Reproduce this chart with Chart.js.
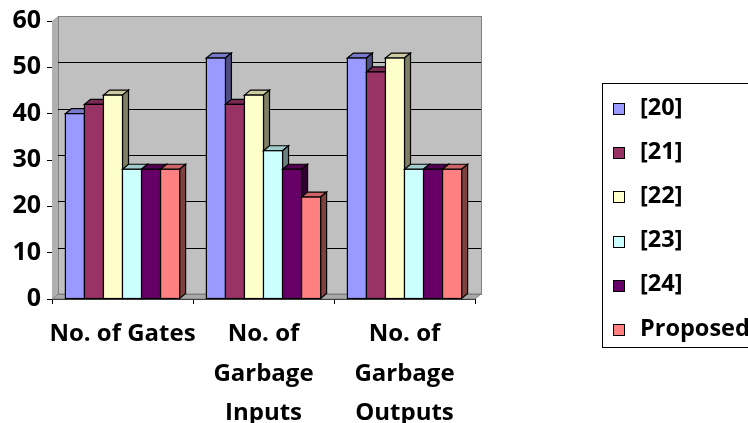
<!DOCTYPE html>
<html><head><meta charset="utf-8">
<script src="https://cdn.jsdelivr.net/npm/chart.js@4/dist/chart.umd.min.js"></script>
<style>html,body{margin:0;padding:0;background:#fff;overflow:hidden}#wrap{width:748px;height:423px;position:relative}</style>
</head><body><div id="wrap"><canvas id="c" width="748" height="423"></canvas></div>
<script>
const categories = ["No. of Gates", ["No. of","Garbage","Inputs"], ["No. of","Garbage","Outputs"]];
const seriesNames = ["[20]","[21]","[22]","[23]","[24]","Proposed"];
const s20 = [40,52,52];
const s21 = [42,42,49];
const s22 = [44,44,52];
const s23 = [28,32,28];
const s24 = [28,28,28];
const sProposed = [28,22,28];
const seriesColors = ["#9999FF","#993366","#FFFFCC","#CCFFFF","#660066","#FF8080"];
const yTicks = [0,10,20,30,40,50,60];

const seriesValues = [s20,s21,s22,s23,s24,sProposed];
const DX = 6, DY = -5;
const FONT = "'Open Sans'";

function shade(hex, f){
  const n = parseInt(hex.slice(1),16);
  const r=(n>>16)&255, g=(n>>8)&255, b=n&255;
  return `rgb(${Math.round(r*f)},${Math.round(g*f)},${Math.round(b*f)})`;
}

const wallPlugin = {
  id:'wall',
  beforeDatasetsDraw(chart){
    const {ctx, chartArea:a, scales:{y}} = chart;
    ctx.save();
    const w = a.right - a.left, h = a.bottom - a.top;
    ctx.fillStyle = '#C0C0C0';
    ctx.fillRect(a.left+DX, a.top+DY, w, h);
    ctx.beginPath();
    ctx.moveTo(a.left, a.bottom); ctx.lineTo(a.left, a.top);
    ctx.lineTo(a.left+DX, a.top+DY); ctx.lineTo(a.left+DX, a.bottom+DY);
    ctx.closePath();
    ctx.fillStyle = '#B0B0B0'; ctx.fill();
    ctx.beginPath();
    ctx.moveTo(a.left, a.bottom); ctx.lineTo(a.right, a.bottom);
    ctx.lineTo(a.right+DX, a.bottom+DY); ctx.lineTo(a.left+DX, a.bottom+DY);
    ctx.closePath();
    ctx.fillStyle = '#A8A8A8'; ctx.fill();
    ctx.strokeStyle = '#808080'; ctx.lineWidth = 1; ctx.stroke();
    ctx.strokeStyle = '#808080';
    ctx.strokeRect(a.left+DX+0.5, a.top+DY+0.5, w, h);
    ctx.strokeStyle = '#000'; ctx.lineWidth = 1;
    yTicks.forEach(v => {
      if (v === 0 || v === 60) return;
      const py = Math.round(y.getPixelForValue(v) + DY) + 0.5;
      ctx.beginPath(); ctx.moveTo(a.left+DX, py); ctx.lineTo(a.right+DX, py); ctx.stroke();
    });
    ctx.restore();
  },
  afterDatasetsDraw(chart){
    const ctx = chart.ctx;
    ctx.save();
    ctx.lineWidth = 1.2;
    ctx.strokeStyle = '#000';
    chart.data.datasets.forEach((ds, i) => {
      const meta = chart.getDatasetMeta(i);
      const col = seriesColors[i];
      meta.data.forEach(bar => {
        const {x, y, base, width} = bar.getProps(['x','y','base','width'], true);
        const l = x - width/2, r = x + width/2;
        ctx.beginPath();
        ctx.moveTo(l, y); ctx.lineTo(l+DX, y+DY); ctx.lineTo(r+DX, y+DY); ctx.lineTo(r, y); ctx.closePath();
        ctx.fillStyle = shade(col, 0.8); ctx.fill(); ctx.stroke();
        ctx.beginPath();
        ctx.moveTo(r, y); ctx.lineTo(r+DX, y+DY); ctx.lineTo(r+DX, base+DY); ctx.lineTo(r, base); ctx.closePath();
        ctx.fillStyle = shade(col, 0.5); ctx.fill(); ctx.stroke();
        ctx.fillStyle = col;
        ctx.fillRect(l, y, width, base - y);
        ctx.strokeRect(l, y, width, base - y);
      });
    });
    ctx.restore();
  },
  afterDraw(chart){
    const ctx = chart.ctx;
    ctx.save();
    ctx.strokeStyle = '#000'; ctx.lineWidth = 1;
    ctx.strokeRect(602.5, 83.5, 200, 264);
    ctx.font = `bold 23.5px ${FONT}`;
    ctx.textBaseline = 'middle';
    seriesNames.forEach((name, i) => {
      const cy = 108 + i*44.2;
      ctx.fillStyle = seriesColors[i];
      ctx.fillRect(613.5, Math.round(cy-5)+0.5, 11, 11);
      ctx.strokeStyle = '#000';
      ctx.strokeRect(613.5, Math.round(cy-5)+0.5, 11, 11);
      ctx.fillStyle = '#000';
      ctx.fillText(name, 640, cy);
    });
    ctx.restore();
  }
};

new Chart(document.getElementById('c'), {
  type: 'bar',
  data: {
    labels: categories,
    datasets: seriesNames.map((n, i) => ({
      label: n,
      data: seriesValues[i],
      backgroundColor: seriesColors[i],
      borderColor: '#000',
      borderWidth: 0
    }))
  },
  options: {
    responsive: false,
    animation: false,
    events: [],
    layout: { padding: { left: 0, top: 20, right: 273, bottom: 0 } },
    plugins: { legend: { display: false }, tooltip: { enabled: false } },
    datasets: { bar: { categoryPercentage: 0.81, barPercentage: 1.0 } },
    scales: {
      x: {
        grid: { drawOnChartArea: false, offset: true, color: '#000', tickLength: 5 },
        border: { color: '#000' },
        ticks: { color: '#000', font: { family: FONT, weight: 'bold', size: 24, lineHeight: 1.63 }, padding: 11, maxRotation: 0, autoSkip: false },
        afterFit(s){ s.height = 124; }
      },
      y: {
        min: 0, max: 60,
        ticks: { stepSize: 10, color: '#000', font: { family: FONT, weight: 'bold', size: 25 }, padding: 6 },
        grid: { drawOnChartArea: false, color: '#000', tickLength: 5 },
        border: { color: '#000' },
        afterFit(s){ s.width = 52; }
      }
    }
  },
  plugins: [wallPlugin]
});
</script>
</body></html>
